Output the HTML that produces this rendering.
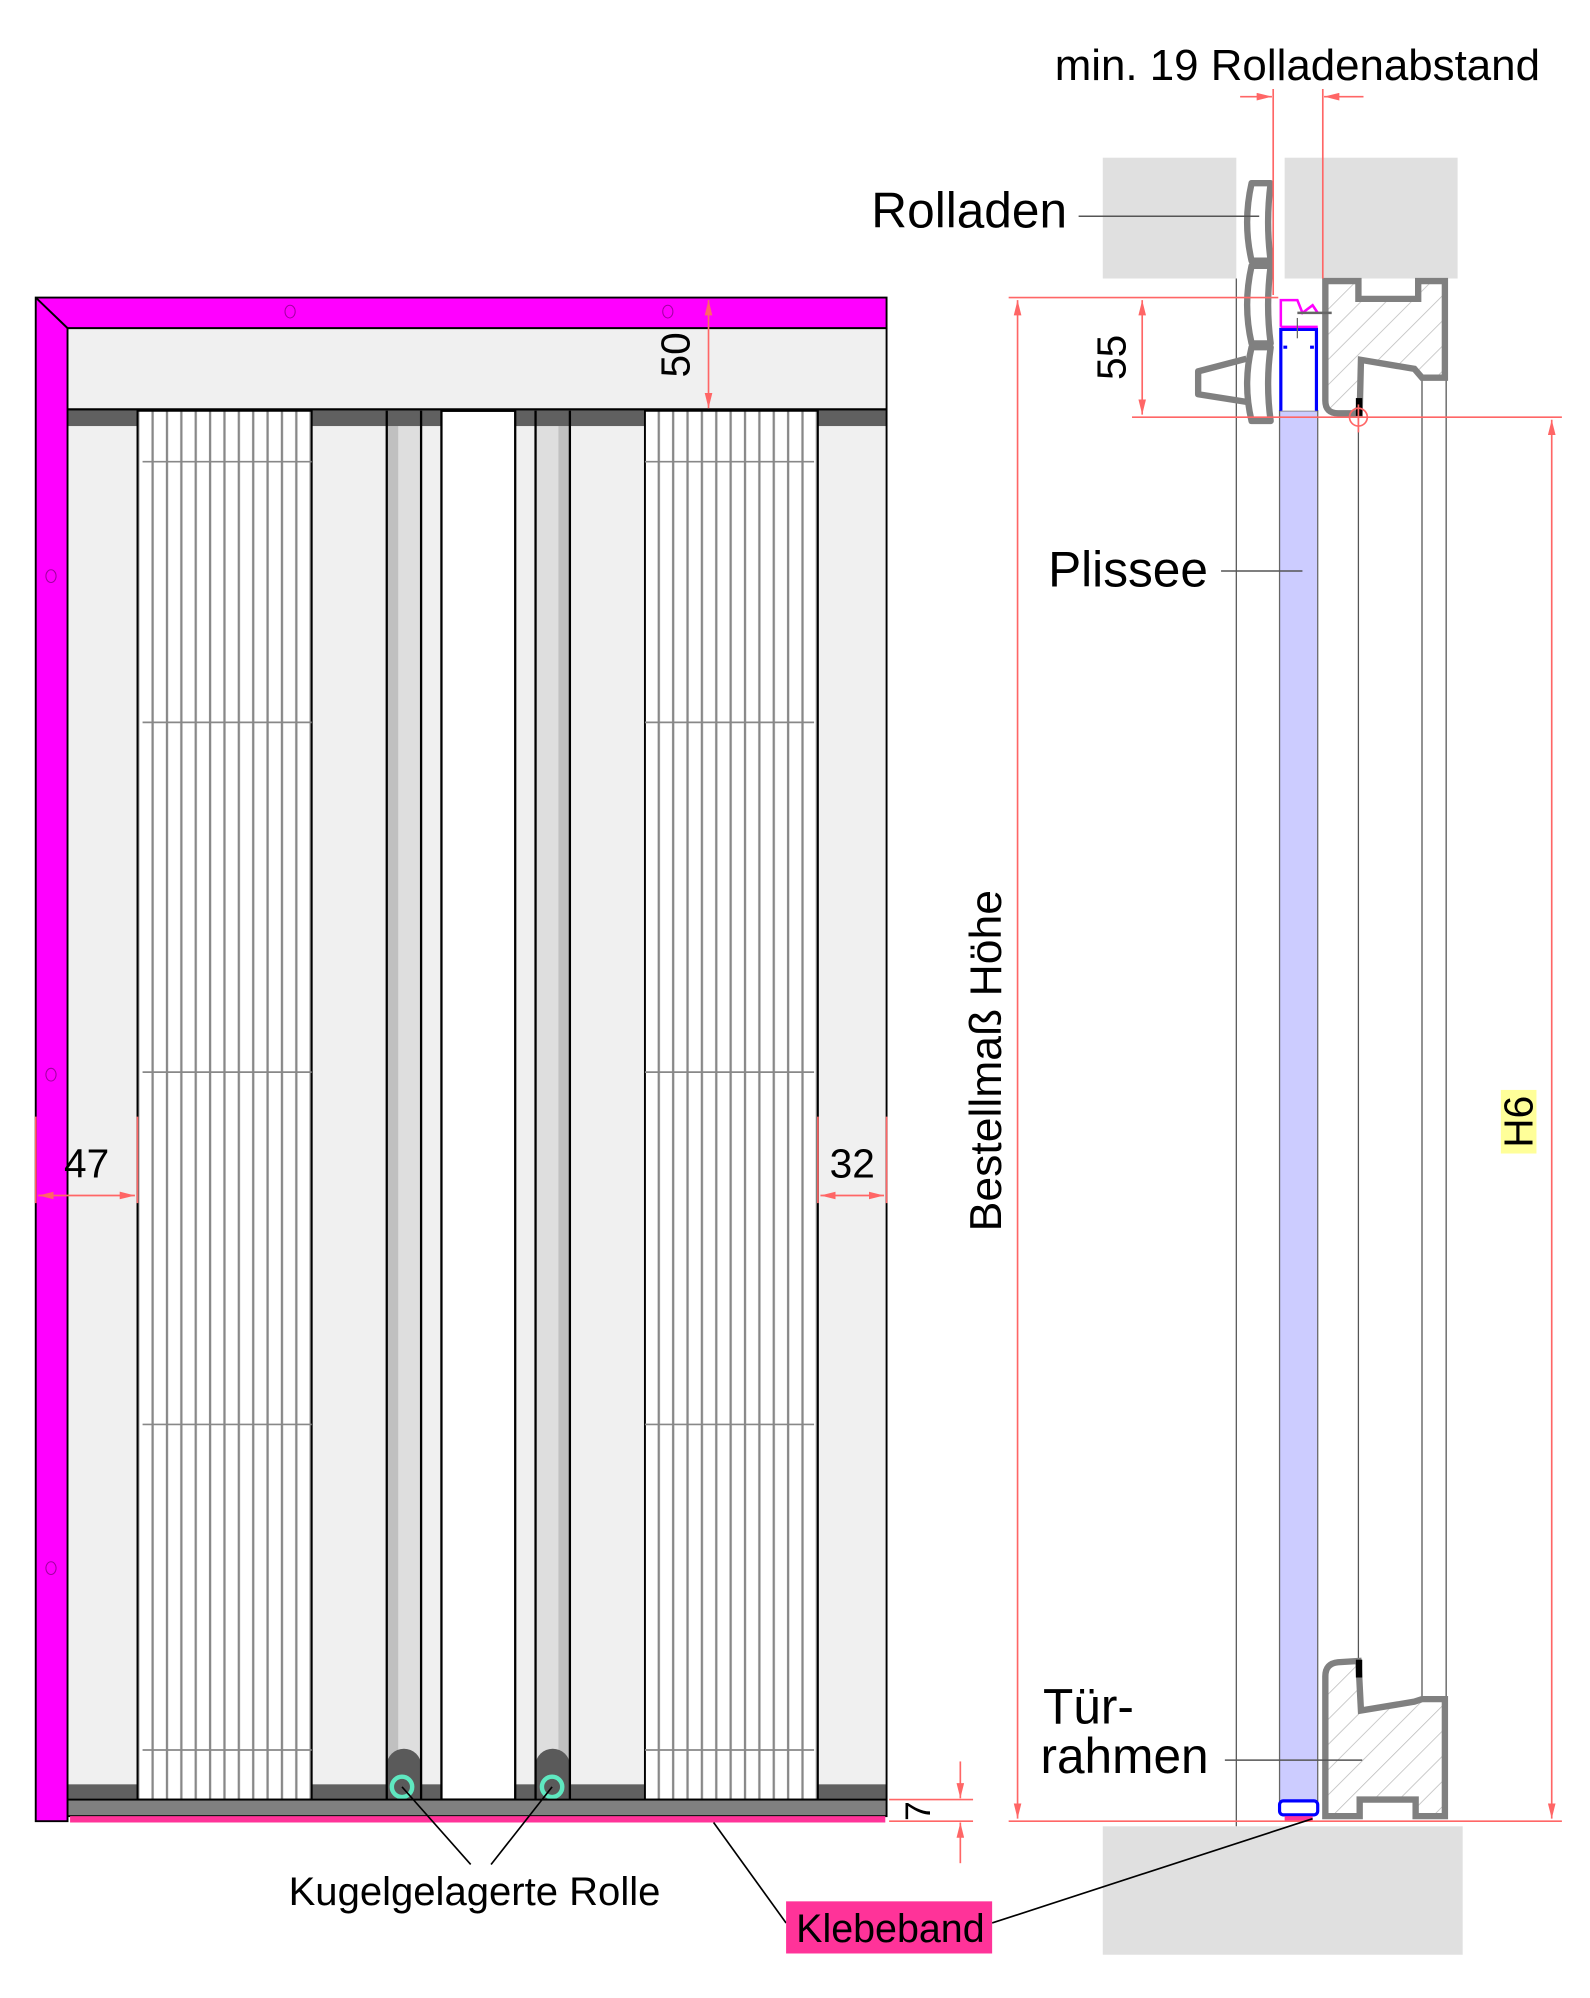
<!DOCTYPE html>
<html><head><meta charset="utf-8"><style>html,body{margin:0;padding:0;background:#fff}svg{display:block}text{font-family:"Liberation Sans",sans-serif}</style></head>
<body>
<svg width="1590" height="1998" viewBox="0 0 1250 1571" xmlns="http://www.w3.org/2000/svg">
<defs>
<pattern id="pl" width="11.3" height="20" patternUnits="userSpaceOnUse" x="114">
<rect width="11.3" height="20" fill="#fff"/><rect x="5" width="1.8" height="20" fill="#888"/>
</pattern>
<pattern id="pr" width="11.3" height="20" patternUnits="userSpaceOnUse" x="512">
<rect width="11.3" height="20" fill="#fff"/><rect x="5" width="1.8" height="20" fill="#888"/>
</pattern>
<pattern id="hatch" width="14" height="14" patternUnits="userSpaceOnUse" patternTransform="rotate(45)">
<rect width="14" height="14" fill="#fff"/><line x1="0" y1="0" x2="0" y2="14" stroke="#bbb" stroke-width="1.2"/>
</pattern>
<marker id="ar" markerWidth="12" markerHeight="6" refX="12" refY="3" orient="auto" markerUnits="userSpaceOnUse"><path d="M0,0 L12,3 L0,6Z" fill="#f66"/></marker>
<marker id="al" markerWidth="12" markerHeight="6" refX="0" refY="3" orient="auto" markerUnits="userSpaceOnUse"><path d="M12,0 L0,3 L12,6Z" fill="#f66"/></marker>
</defs>

<!-- LEFT DRAWING -->
<rect x="53" y="258" width="644" height="1158" fill="#f0f0f0"/>
<line x1="53" y1="322" x2="697" y2="322" stroke="#000" stroke-width="2"/>
<rect x="53" y="323" width="644" height="12" fill="#606060"/>
<rect x="53" y="1403" width="644" height="13" fill="#606060"/>
<rect x="108" y="323" width="137" height="1092" fill="url(#pl)" stroke="#000" stroke-width="1.5"/>
<rect x="507" y="323" width="136" height="1092" fill="url(#pr)" stroke="#000" stroke-width="1.5"/>
<g stroke="#888" stroke-width="1.3">
<line x1="112" y1="363" x2="245" y2="363"/><line x1="112" y1="568" x2="245" y2="568"/><line x1="112" y1="843" x2="245" y2="843"/><line x1="112" y1="1120" x2="245" y2="1120"/><line x1="112" y1="1376" x2="245" y2="1376"/>
<line x1="507" y1="363" x2="640" y2="363"/><line x1="507" y1="568" x2="640" y2="568"/><line x1="507" y1="843" x2="640" y2="843"/><line x1="507" y1="1120" x2="640" y2="1120"/><line x1="507" y1="1376" x2="640" y2="1376"/>
</g>
<rect x="304" y="335" width="27" height="1070" fill="#dedede"/><rect x="304" y="335" width="9" height="1070" fill="#c0c0c0"/>
<rect x="421" y="335" width="27" height="1070" fill="#dedede"/><rect x="439" y="335" width="9" height="1070" fill="#c0c0c0"/>
<rect x="304" y="323" width="27" height="12" fill="#606060"/><rect x="421" y="323" width="27" height="12" fill="#606060"/>
<path d="M304,1415 V1388 A13.5,13 0 0 1 331,1388 V1415Z" fill="#5a5a5a"/>
<path d="M421,1415 V1388 A13.5,13 0 0 1 448,1388 V1415Z" fill="#5a5a5a"/>
<g stroke="#000" stroke-width="1.8" fill="none">
<line x1="304" y1="323" x2="304" y2="1415"/><line x1="331" y1="323" x2="331" y2="1415"/>
<line x1="421" y1="323" x2="421" y2="1415"/><line x1="448" y1="323" x2="448" y2="1415"/>
</g>
<rect x="347" y="323" width="58" height="1092" fill="#fff" stroke="#000" stroke-width="1.8"/>
<circle cx="316" cy="1405" r="8" fill="none" stroke="#5fe8c0" stroke-width="3.5"/>
<circle cx="434" cy="1405" r="8" fill="none" stroke="#5fe8c0" stroke-width="3.5"/>
<line x1="697" y1="258" x2="697" y2="1416" stroke="#000" stroke-width="1.5"/>
<rect x="53" y="1415" width="644" height="13" fill="#808080" stroke="#000" stroke-width="1.5"/>
<rect x="55" y="1428" width="641" height="5" fill="#ff3399"/>
<path d="M28,234 H697 V258 H53 V1432 H28Z" fill="#ff00ff" stroke="#000" stroke-width="1.5"/>
<line x1="28" y1="234" x2="53" y2="258" stroke="#000" stroke-width="1.5"/>
<g fill="none" stroke="#a000a0" stroke-width="0.8">
<ellipse cx="228" cy="245" rx="4" ry="5"/><ellipse cx="525" cy="245" rx="4" ry="5"/>
<ellipse cx="40" cy="453" rx="4" ry="5"/><ellipse cx="40" cy="845" rx="4" ry="5"/><ellipse cx="40" cy="1233" rx="4" ry="5"/>
</g>
<g stroke="#f66" stroke-width="1.3" fill="none">
<line x1="557" y1="236" x2="557" y2="321" marker-start="url(#al)" marker-end="url(#ar)"/>
<line x1="28" y1="878" x2="28" y2="946"/><line x1="108" y1="878" x2="108" y2="946"/>
<line x1="30" y1="940" x2="106" y2="940" marker-start="url(#al)" marker-end="url(#ar)"/>
<line x1="643" y1="878" x2="643" y2="946"/><line x1="697" y1="878" x2="697" y2="946"/>
<line x1="645" y1="940" x2="695" y2="940" marker-start="url(#al)" marker-end="url(#ar)"/>
<line x1="699" y1="1415" x2="765" y2="1415"/><line x1="699" y1="1432" x2="765" y2="1432"/>
<line x1="755" y1="1385" x2="755" y2="1414" marker-end="url(#ar)"/>
<line x1="755" y1="1465" x2="755" y2="1433" marker-end="url(#ar)"/>
</g>
<text x="0" y="0" font-size="32" transform="translate(542,279) rotate(-90)" text-anchor="middle">50</text>
<text x="68" y="926" font-size="32" text-anchor="middle">47</text>
<text x="670" y="926" font-size="32" text-anchor="middle">32</text>
<text x="0" y="0" font-size="28" transform="translate(731,1424) rotate(-90)" text-anchor="middle">7</text>

<!-- RIGHT DRAWING -->
<rect x="867" y="124" width="105" height="95" fill="#e0e0e0"/>
<rect x="1010" y="124" width="136" height="95" fill="#e0e0e0"/>
<rect x="867" y="1436" width="283" height="101" fill="#e0e0e0"/>
<g stroke="#555" stroke-width="1">
<line x1="972" y1="219" x2="972" y2="1436"/>
<line x1="1068" y1="325" x2="1068" y2="1305"/>
<line x1="1118" y1="298" x2="1118" y2="1335"/>
<line x1="1137" y1="298" x2="1137" y2="1335"/>
</g>
<rect x="1006" y="323" width="30" height="1093" fill="#ccccff" stroke="#666" stroke-width="1"/>
<rect x="1006" y="1416" width="30" height="11" rx="3" fill="#fff" stroke="#0000ff" stroke-width="2.5"/>
<rect x="1010" y="1428" width="22" height="4" fill="#ff3399"/>
<path d="M1042,221 H1068 V235 H1115 V221 H1136 V297 H1118 L1112,290 L1070,283 L1069,325 H1052 Q1042,325 1042,315Z" fill="url(#hatch)" stroke="#808080" stroke-width="5"/>
<path d="M1042,1428 H1069 V1415 H1113 V1428 H1136 V1336 H1118 L1112,1338 L1070,1345 L1068,1306 L1052,1307 Q1042,1308 1042,1318Z" fill="url(#hatch)" stroke="#808080" stroke-width="5"/>
<rect x="1066" y="1305" width="5" height="14" fill="#000"/>
<rect x="1066" y="313" width="5" height="14" fill="#000"/>
<g fill="none" stroke="#808080" stroke-width="5" stroke-linejoin="round">
<path d="M984,144 H999 Q995,175 999,205 H984 Q977,175 984,144Z"/>
<path d="M984,209 H999 Q995,240 999,270 H984 Q977,240 984,209Z"/>
<path d="M984,273 H999 Q995,302 999,331 H984 Q977,302 984,273Z"/>
<path d="M980,282 L942,292 V310 L980,316"/>
</g>
<path d="M1007,323 V259 H1035 V323" fill="#fff" stroke="#0000ff" stroke-width="2.5"/>
<path d="M1009,273 h3 M1033,273 h-3" stroke="#0000ff" stroke-width="2.5"/>
<path d="M1007,257 V236 H1020 L1024,246 L1032,240 L1036,246 M1007,257 H1036" fill="none" stroke="#ff00ff" stroke-width="2"/>
<line x1="1020" y1="246" x2="1047" y2="246" stroke="#666" stroke-width="2"/>
<line x1="1020" y1="250" x2="1020" y2="266" stroke="#666" stroke-width="1"/>
<g stroke="#f66" stroke-width="1.3" fill="none">
<line x1="1001" y1="70" x2="1001" y2="232"/><line x1="1040" y1="70" x2="1040" y2="219"/>
<line x1="975" y1="76" x2="1000" y2="76" marker-end="url(#ar)"/>
<line x1="1072" y1="76" x2="1041" y2="76" marker-end="url(#ar)"/>
<line x1="793" y1="234" x2="1005" y2="234"/>
<line x1="890" y1="328" x2="1228" y2="328"/>
<line x1="793" y1="1432" x2="1228" y2="1432"/>
<line x1="800" y1="236" x2="800" y2="1430" marker-start="url(#al)" marker-end="url(#ar)"/>
<line x1="898" y1="236" x2="898" y2="326" marker-start="url(#al)" marker-end="url(#ar)"/>
<line x1="1220" y1="330" x2="1220" y2="1430" marker-start="url(#al)" marker-end="url(#ar)"/>
<circle cx="1068" cy="328" r="7"/><line x1="1068" y1="318" x2="1068" y2="340"/>
</g>
<text x="0" y="0" font-size="32" transform="translate(885,281) rotate(-90)" text-anchor="middle">55</text>
<text x="0" y="0" font-size="35" transform="translate(787,834) rotate(-90)" text-anchor="middle">Bestellmaß Höhe</text>
<rect x="1180" y="857" width="28" height="50" fill="#ffff99"/>
<text x="0" y="0" font-size="32" transform="translate(1205,882) rotate(-90)" text-anchor="middle">H6</text>
<g stroke="#555" stroke-width="1.2">
<line x1="848" y1="170" x2="990" y2="170"/>
<line x1="960" y1="449" x2="1024" y2="449"/>
<line x1="963" y1="1384" x2="1071" y2="1384"/>
</g>
<text x="1020" y="63" font-size="34.5" text-anchor="middle">min. 19 Rolladenabstand</text>
<text x="685" y="179" font-size="39">Rolladen</text>
<text x="824" y="461" font-size="39">Plissee</text>
<text x="820" y="1355" font-size="39">Tür-</text>
<text x="818" y="1394" font-size="39">rahmen</text>

<!-- bottom labels & leaders (on top) -->
<g stroke="#000" stroke-width="1.3">
<line x1="316" y1="1405" x2="370" y2="1466"/><line x1="434" y1="1405" x2="386" y2="1466"/>
<line x1="561" y1="1433" x2="618" y2="1512"/><line x1="780" y1="1512" x2="1032" y2="1430"/>
</g>
<text x="373" y="1498" font-size="31.5" text-anchor="middle">Kugelgelagerte Rolle</text>
<rect x="618" y="1495" width="162" height="41" fill="#ff3399"/>
<text x="700" y="1527" font-size="31" text-anchor="middle">Klebeband</text>
</svg>
</body></html>
